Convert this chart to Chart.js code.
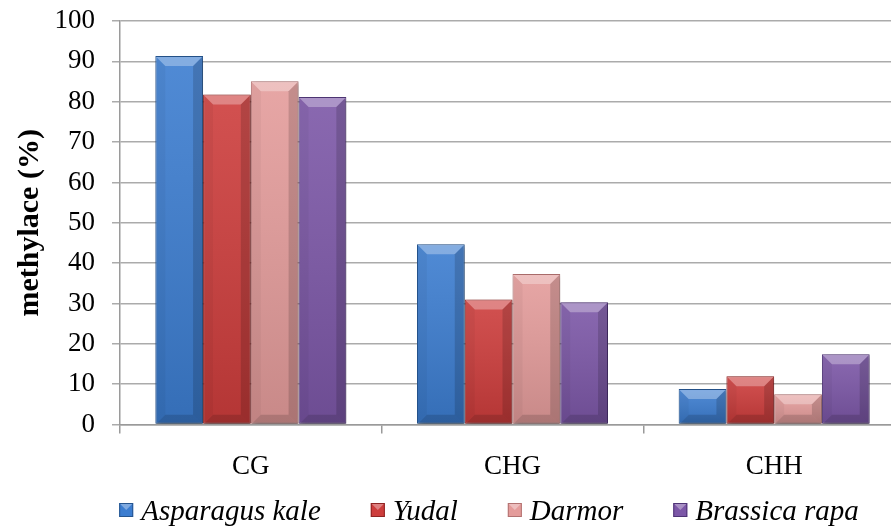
<!DOCTYPE html>
<html>
<head>
<meta charset="utf-8">
<title>methylace</title>
<script src="https://cdn.jsdelivr.net/npm/chart.js@4.4.0/dist/chart.umd.min.js"></script>
<style>
    html, body { margin: 0; padding: 0; background: #ffffff; }
    #wrap { width: 891px; height: 529px; overflow: hidden; }
</style>
</head>
<body>
<div id="wrap">
    <canvas id="methylChart" width="905" height="529"></canvas>
</div>
<script>
// Data
const categories = ['CG', 'CHG', 'CHH'];
const seriesNames = ['Asparagus kale', 'Yudal', 'Darmor', 'Brassica rapa'];
const asparagusKale = [91.3, 44.7, 8.8];
const yudal = [81.8, 31.0, 12.0];
const darmor = [85.1, 37.3, 7.5];
const brassicaRapa = [81.2, 30.3, 17.4];
const yTickMin = 0;
const yTickMax = 100;
const yTickStep = 10;

// Office-style palette
const palette = {
    blue:   { fill: '#3c7dd0', edge: '#26558f' },
    red:    { fill: '#cd3d3c', edge: '#8e2423' },
    pink:   { fill: '#e49c9b', edge: '#b27271' },
    purple: { fill: '#7c57a7', edge: '#4e3475' }
};

const serifFont = '"Liberation Serif", "Times New Roman", serif';

// Soft shadow + bevel drawn on each bar element
const bevelPlugin = {
    id: 'bevel',
    beforeDatasetDraw(chart) {
        const ctx = chart.ctx;
        ctx.save();
        ctx.shadowColor = 'rgba(0, 0, 0, 0.35)';
        ctx.shadowBlur = 5;
        ctx.shadowOffsetX = 2;
        ctx.shadowOffsetY = 2;
    },
    afterDatasetDraw(chart, args) {
        const ctx = chart.ctx;
        ctx.restore();
        ctx.save();
        args.meta.data.forEach(bar => {
            const { x, y, base, width } = bar.getProps(['x', 'y', 'base', 'width'], true);
            const l = x - width / 2 + 1;
            const r = x + width / 2 - 1;
            const t = y + 1;
            const b = base;
            const h = b - t;
            if (h <= 0) return;
            const d = Math.min(9, h / 2, (r - l) / 2);

            // vertical shading
            const g = ctx.createLinearGradient(0, t, 0, b);
            g.addColorStop(0, 'rgba(255,255,255,0.10)');
            g.addColorStop(1, 'rgba(0,0,0,0.12)');
            ctx.fillStyle = g;
            ctx.fillRect(l, t, r - l, h);

            // top facet
            ctx.fillStyle = 'rgba(255,255,255,0.30)';
            ctx.beginPath();
            ctx.moveTo(l, t); ctx.lineTo(r, t); ctx.lineTo(r - d, t + d); ctx.lineTo(l + d, t + d);
            ctx.closePath(); ctx.fill();

            // right facet
            ctx.fillStyle = 'rgba(0,0,0,0.15)';
            ctx.beginPath();
            ctx.moveTo(r, t); ctx.lineTo(r, b); ctx.lineTo(r - d, b - d); ctx.lineTo(r - d, t + d);
            ctx.closePath(); ctx.fill();

            // left facet
            ctx.fillStyle = 'rgba(0,0,0,0.04)';
            ctx.beginPath();
            ctx.moveTo(l, t); ctx.lineTo(l + d, t + d); ctx.lineTo(l + d, b - d); ctx.lineTo(l, b);
            ctx.closePath(); ctx.fill();

            // bottom facet
            ctx.fillStyle = 'rgba(0,0,0,0.14)';
            ctx.beginPath();
            ctx.moveTo(l, b); ctx.lineTo(l + d, b - d); ctx.lineTo(r - d, b - d); ctx.lineTo(r, b);
            ctx.closePath(); ctx.fill();
        });
        ctx.restore();
    }
};

// Legend row under the axis labels, centred on the visible page
const bottomLegend = {
    id: 'bottomLegend',
    afterDraw(chart, args, opts) {
        const ctx = chart.ctx;
        ctx.save();
        ctx.font = 'italic ' + opts.fontSize + 'px ' + serifFont;
        ctx.textBaseline = 'alphabetic';
        ctx.textAlign = 'left';
        const box = opts.boxSize;
        const items = chart.data.datasets.map(ds => ({
            text: ds.label,
            w: ctx.measureText(ds.label).width,
            fill: ds.backgroundColor,
            edge: ds.borderColor
        }));
        const total = items.reduce((s, it) => s + box + opts.boxGap + it.w, 0) + opts.spacing * (items.length - 1);
        let x = opts.centerX - total / 2;
        const baseY = opts.baseline;
        items.forEach(it => {
            const by = baseY - 17;
            ctx.fillStyle = it.fill;
            ctx.fillRect(x, by, box, box);
            ctx.fillStyle = 'rgba(255,255,255,0.35)';
            ctx.beginPath();
            ctx.moveTo(x, by); ctx.lineTo(x + box, by); ctx.lineTo(x + box / 2, by + box / 2);
            ctx.closePath(); ctx.fill();
            ctx.strokeStyle = it.edge;
            ctx.lineWidth = 1;
            ctx.strokeRect(x + 0.5, by + 0.5, box - 1, box - 1);
            ctx.fillStyle = '#000000';
            ctx.fillText(it.text, x + box + opts.boxGap, baseY);
            x += box + opts.boxGap + it.w + opts.spacing;
        });
        ctx.restore();
    }
};

function makeDataset(name, values, colors) {
    return {
        label: name,
        data: values,
        backgroundColor: colors.fill,
        borderColor: colors.edge,
        borderWidth: 1,
        borderSkipped: false,
        barPercentage: 1.0,
        categoryPercentage: 0.73
    };
}

new Chart(document.getElementById('methylChart'), {
    type: 'bar',
    data: {
        labels: categories,
        datasets: [
            makeDataset(seriesNames[0], asparagusKale, palette.blue),
            makeDataset(seriesNames[1], yudal, palette.red),
            makeDataset(seriesNames[2], darmor, palette.pink),
            makeDataset(seriesNames[3], brassicaRapa, palette.purple)
        ]
    },
    options: {
        responsive: false,
        animation: false,
        layout: {
            padding: { top: 21, bottom: 29, left: 0, right: 0 }
        },
        plugins: {
            legend: { display: false },
            tooltip: { enabled: false },
            bottomLegend: {
                centerX: 489,
                baseline: 520,
                fontSize: 29,
                boxSize: 14,
                boxGap: 8,
                spacing: 50
            }
        },
        scales: {
            x: {
                grid: {
                    offset: true,
                    drawOnChartArea: false,
                    drawTicks: true,
                    tickLength: 9,
                    color: '#9a9a9a',
                    lineWidth: 1.5
                },
                border: { display: true, color: '#9a9a9a', width: 1.5 },
                ticks: {
                    color: '#000000',
                    padding: 17,
                    font: { family: serifFont, size: 27 }
                }
            },
            y: {
                min: yTickMin,
                max: yTickMax,
                afterFit: (scale) => {
                    // fixed axis band; label gap should not push the plot down
                    scale.width = 120;
                    scale.paddingTop = 16;
                    scale.paddingBottom = 16;
                },
                ticks: {
                    stepSize: yTickStep,
                    color: '#000000',
                    padding: 17,
                    font: { family: serifFont, size: 27 }
                },
                grid: {
                    color: '#ababab',
                    lineWidth: 1.5,
                    tickLength: 8
                },
                border: { display: true, color: '#9a9a9a', width: 1.5 },
                title: {
                    display: true,
                    text: 'methylace (%)',
                    color: '#000000',
                    padding: { top: 12, bottom: 0 },
                    font: { family: serifFont, size: 30, weight: 'bold' }
                }
            }
        }
    },
    plugins: [bevelPlugin, bottomLegend]
});
</script>
</body>
</html>
